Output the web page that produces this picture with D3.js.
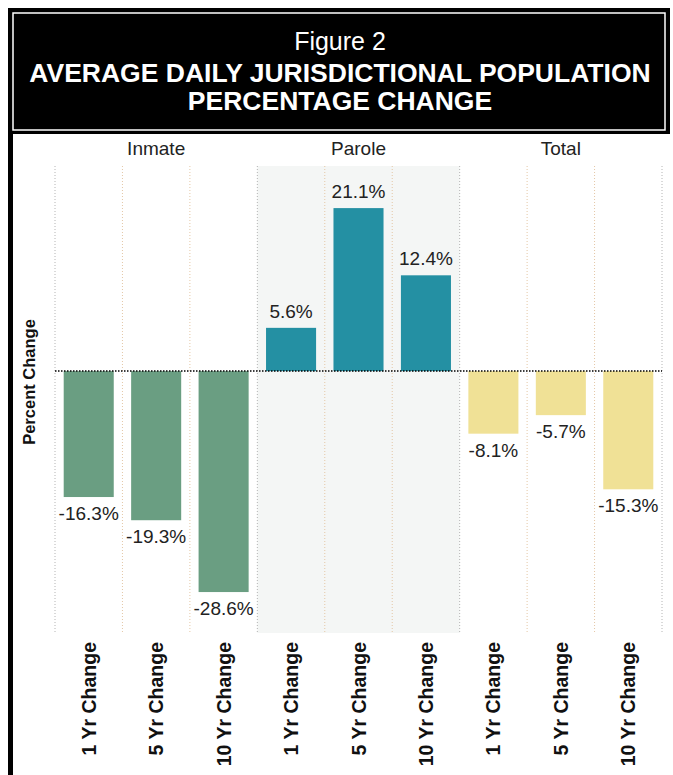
<!DOCTYPE html>
<html>
<head>
<meta charset="utf-8">
<script src="https://cdn.jsdelivr.net/npm/d3@7"></script>
<style>
  body { margin: 0; background: #fff; }
  svg { display: block; font-family: "Liberation Sans", Arial, sans-serif; }
</style>
</head>
<body>
<div id="chart"></div>
<script>
const groups = ["Inmate", "Parole", "Total"];
const periods = ["1 Yr Change", "5 Yr Change", "10 Yr Change"];
const inmateValues = [-16.3, -19.3, -28.6];
const paroleValues = [5.6, 21.1, 12.4];
const totalValues = [-8.1, -5.7, -15.3];
const groupColors = ["#6a9e82", "#2490a3", "#f0e196"];
const titleLines = ["Figure 2", "AVERAGE DAILY JURISDICTIONAL POPULATION", "PERCENTAGE CHANGE"];

const seriesValues = [inmateValues, paroleValues, totalValues];
const data = [];
groups.forEach((g, gi) =>
  periods.forEach((p, pi) => data.push({ group: g, period: p, value: seriesValues[gi][pi], color: groupColors[gi] }))
);

const width = 673, height = 775;
const plot = { left: 55, right: 662, top: 166, bottom: 633 };

const svg = d3.select("#chart").append("svg")
  .attr("width", width)
  .attr("height", height);

// frame and title box
svg.append("rect")
  .attr("x", 8).attr("y", 8).attr("width", 662).attr("height", 126)
  .attr("fill", "#000");
svg.append("rect")
  .attr("x", 13).attr("y", 13).attr("width", 652).attr("height", 117)
  .attr("fill", "none").attr("stroke", "#fff").attr("stroke-width", 1.5);
svg.append("rect")
  .attr("x", 8).attr("y", 134).attr("width", 5).attr("height", height - 134)
  .attr("fill", "#000");

const title = svg.append("g").attr("fill", "#fff").attr("text-anchor", "middle");
title.append("text").attr("x", 340).attr("y", 50)
  .attr("font-size", 25).text(titleLines[0]);
title.append("text").attr("x", 340).attr("y", 82)
  .attr("font-size", 26.5).attr("font-weight", "bold").text(titleLines[1]);
title.append("text").attr("x", 340).attr("y", 110)
  .attr("font-size", 26.5).attr("font-weight", "bold").text(titleLines[2]);

// scales
const fx = d3.scaleBand().domain(groups).range([plot.left, plot.right]);
const xi = d3.scaleBand().domain(periods).range([0, fx.bandwidth()])
  .paddingInner(0.258).paddingOuter(0.129);
const y = d3.scaleLinear().domain([-33.9, 26.55]).range([plot.bottom, plot.top]);

// parole shading
svg.append("rect")
  .attr("x", fx("Parole")).attr("y", plot.top)
  .attr("width", fx.bandwidth()).attr("height", plot.bottom - plot.top)
  .attr("fill", "#f4f6f5");

// vertical dotted grid lines
const gridX = [];
groups.forEach((g) => periods.forEach((p, j) => gridX.push({ x: fx(g) + j * xi.step(), pane: j === 0 })));
gridX.push({ x: plot.right, pane: true });
svg.append("g").selectAll("line").data(gridX).join("line")
  .attr("x1", (d) => d.x).attr("x2", (d) => d.x)
  .attr("y1", plot.top).attr("y2", plot.bottom)
  .attr("stroke", (d) => (d.pane ? "#b4b4b4" : "#e4c7a6"))
  .attr("stroke-width", 1)
  .attr("stroke-dasharray", "1,2");

// facet headers
svg.append("g").selectAll("text").data(groups).join("text")
  .attr("x", (d) => fx(d) + fx.bandwidth() / 2)
  .attr("y", 155)
  .attr("text-anchor", "middle")
  .attr("font-size", 19)
  .attr("fill", "#222")
  .text((d) => d);

// bars
const colX = (d) => fx(d.group) + xi(d.period);
svg.append("g").selectAll("rect").data(data).join("rect")
  .attr("x", colX)
  .attr("y", (d) => y(Math.max(0, d.value)))
  .attr("width", xi.bandwidth())
  .attr("height", (d) => Math.abs(y(d.value) - y(0)))
  .attr("fill", (d) => d.color);

// zero line
svg.append("line")
  .attr("x1", plot.left).attr("x2", plot.right)
  .attr("y1", y(0)).attr("y2", y(0))
  .attr("stroke", "#000").attr("stroke-width", 1.5)
  .attr("stroke-dasharray", "1.5,1.5");

// value labels
svg.append("g").selectAll("text").data(data).join("text")
  .attr("x", (d) => colX(d) + xi.bandwidth() / 2)
  .attr("y", (d) => (d.value >= 0 ? y(d.value) - 10 : y(d.value) + 23))
  .attr("text-anchor", "middle")
  .attr("font-size", 19)
  .attr("fill", "#222")
  .text((d) => d.value.toFixed(1) + "%");

// x axis labels (rotated)
svg.append("g").selectAll("text").data(data).join("text")
  .attr("transform", (d) => `translate(${colX(d) + xi.bandwidth() / 2 + 7},642) rotate(-90)`)
  .attr("text-anchor", "end")
  .attr("font-size", 19.5)
  .attr("font-weight", "bold")
  .attr("fill", "#111")
  .text((d) => d.period);

// y axis title
svg.append("text")
  .attr("transform", "translate(35,382) rotate(-90)")
  .attr("text-anchor", "middle")
  .attr("font-size", 16.5)
  .attr("font-weight", "bold")
  .attr("fill", "#111")
  .text("Percent Change");
</script>
</body>
</html>
